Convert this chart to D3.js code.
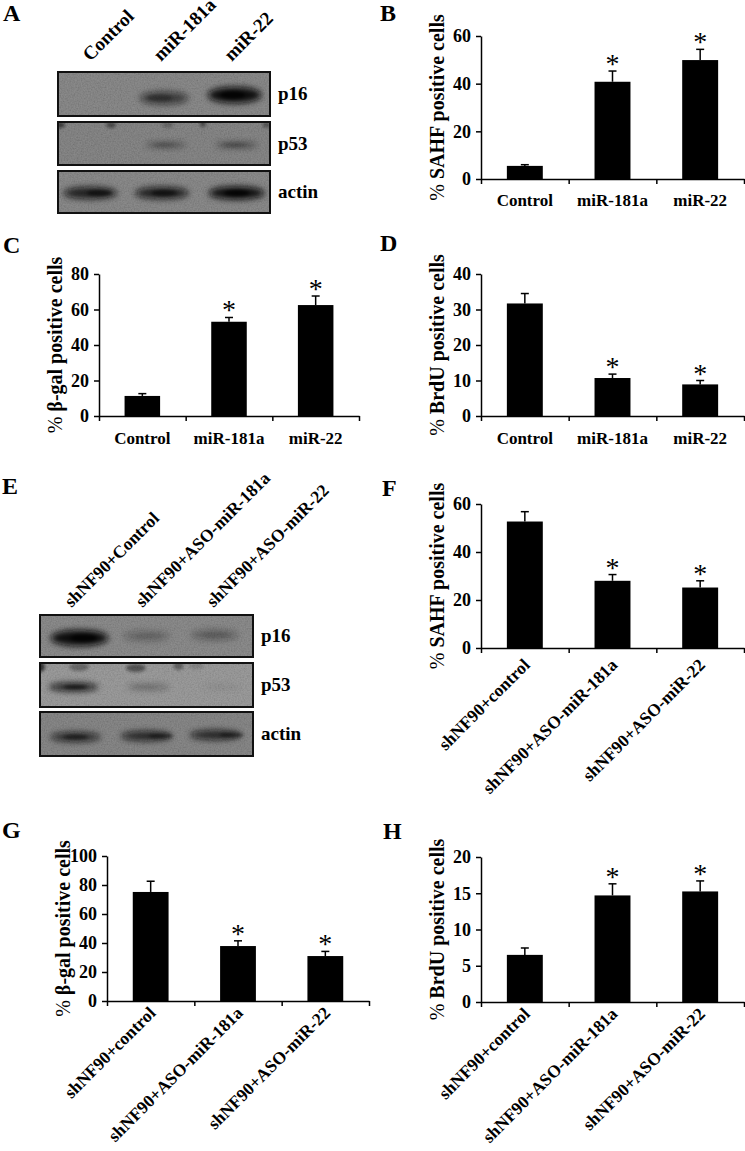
<!DOCTYPE html>
<html><head><meta charset="utf-8">
<script src="https://cdnjs.cloudflare.com/ajax/libs/d3/7.8.5/d3.min.js"></script>
<style>
body{margin:0;background:#fff}
svg{display:block}
text{font-family:"Liberation Serif","Times New Roman",serif;font-weight:bold;fill:#000}
</style>
</head><body>
<svg id="fig" width="745" height="1151"></svg>
<script>
// ---------- DATA ----------
const groupsTop = ["Control", "miR-181a", "miR-22"];
const groupsBottom = ["shNF90+control", "shNF90+ASO-miR-181a", "shNF90+ASO-miR-22"];
const blotLanesA = ["Control", "miR-181a", "miR-22"];
const blotLanesE = ["shNF90+Control", "shNF90+ASO-miR-181a", "shNF90+ASO-miR-22"];
const blotProteins = ["p16", "p53", "actin"];

// band intensities (0-1) per lane
const blotA_p16 = [0.0, 0.6, 1.0];
const blotA_p53 = [0.0, 0.45, 0.5];
const blotA_actin = [0.85, 0.85, 1.0];
const blotE_p16 = [1.0, 0.25, 0.3];
const blotE_p53 = [0.85, 0.3, 0.08];
const blotE_actin = [0.75, 0.8, 0.8];

// bar values (% positive cells) and error bars
const sahfB = [5.5, 40.8, 49.9];
const sahfBErr = [0.5, 4.5, 4.5];
const sigB = [false, true, true];
const bgalC = [11.3, 53.1, 62.5];
const bgalCErr = [1.3, 2.4, 5.1];
const sigC = [false, true, true];
const brduD = [31.7, 10.7, 8.9];
const brduDErr = [2.8, 1.1, 1.1];
const sigD = [false, true, true];
const sahfF = [52.7, 28.0, 25.2];
const sahfFErr = [4.1, 2.6, 2.8];
const sigF = [false, true, true];
const bgalG = [75.2, 37.9, 31.0];
const bgalGErr = [7.4, 3.6, 3.2];
const sigG = [false, true, true];
const brduH = [6.5, 14.7, 15.25];
const brduHErr = [0.95, 1.6, 1.45];
const sigH = [false, true, true];

const ticksB = [0, 20, 40, 60];
const ticksC = [0, 20, 40, 60, 80];
const ticksD = [0, 10, 20, 30, 40];
const ticksF = [0, 20, 40, 60];
const ticksG = [0, 20, 40, 60, 80, 100];
const ticksH = [0, 5, 10, 15, 20];

// ---------- DRAW ----------
const svg = d3.select("#fig");
const defs = svg.append("defs");
defs.append("filter").attr("id", "blur").attr("x", "-50%").attr("y", "-100%").attr("width", "200%").attr("height", "300%")
  .append("feGaussianBlur").attr("stdDeviation", 3);
defs.append("filter").attr("id", "blurS").attr("x", "-50%").attr("y", "-100%").attr("width", "200%").attr("height", "300%")
  .append("feGaussianBlur").attr("stdDeviation", 1.8);
const grain = defs.append("filter").attr("id", "grain").attr("x", 0).attr("y", 0).attr("width", "100%").attr("height", "100%");
grain.append("feTurbulence").attr("type", "fractalNoise").attr("baseFrequency", 0.7).attr("numOctaves", 2).attr("seed", 3);
grain.append("feColorMatrix").attr("type", "matrix")
  .attr("values", "1 0 0 0 0  1 0 0 0 0  1 0 0 0 0  0 0 0 0 0.18");

// panel letters
const letters = [["A", 3, 21], ["B", 380, 21], ["C", 3, 253], ["D", 380, 251], ["E", 2, 494], ["F", 382, 496], ["G", 2, 838], ["H", 383, 839]];
svg.selectAll("text.letter").data(letters).join("text").attr("class", "letter")
  .attr("x", d => d[1]).attr("y", d => d[2]).style("font-size", "24px").text(d => d[0]);

function drawBlot(cfg) {
  const g = svg.append("g");
  const xs = d3.scaleBand().domain(cfg.lanes).range([cfg.x0, cfg.x1]);
  cfg.strips.forEach((s, si) => {
    const sg = g.append("g");
    sg.append("rect").attr("x", cfg.x0).attr("y", s.y0).attr("width", cfg.x1 - cfg.x0).attr("height", s.y1 - s.y0)
      .attr("fill", s.bg);
    sg.append("rect").attr("x", cfg.x0).attr("y", s.y0).attr("width", cfg.x1 - cfg.x0).attr("height", s.y1 - s.y0)
      .attr("filter", "url(#grain)");
    const clipId = "clip" + cfg.id + si;
    defs.append("clipPath").attr("id", clipId).append("rect")
      .attr("x", cfg.x0).attr("y", s.y0).attr("width", cfg.x1 - cfg.x0).attr("height", s.y1 - s.y0);
    const bg = sg.append("g").attr("clip-path", `url(#${clipId})`);
    (s.spots || []).forEach(sp => {
      bg.append("ellipse").attr("cx", xs(cfg.lanes[sp[0]]) + xs.bandwidth() * sp[1]).attr("cy", s.y0 + sp[2])
        .attr("rx", sp[3]).attr("ry", sp[4]).attr("fill", "#111").attr("opacity", sp[5]).attr("filter", "url(#blurS)");
    });
    bg.selectAll("ellipse.band").data(s.vals).join("ellipse").attr("class", "band")
      .attr("cx", (d, i) => xs(cfg.lanes[i]) + xs.bandwidth() / 2 + (s.dx ? s.dx[i] : 0))
      .attr("cy", (d, i) => s.cy + (s.dy ? s.dy[i] : 0))
      .attr("rx", (d, i) => s.rx * (0.75 + 0.25 * d))
      .attr("ry", (d, i) => s.ry * (0.55 + 0.45 * d))
      .attr("fill", "#0a0a0a").attr("opacity", d => d)
      .attr("filter", "url(#blur)");
    bg.selectAll("ellipse.core").data(s.vals).join("ellipse").attr("class", "core")
      .attr("cx", (d, i) => xs(cfg.lanes[i]) + xs.bandwidth() / 2 + (s.cdx ? s.cdx[i] : 0))
      .attr("cy", (d, i) => s.cy + (s.dy ? s.dy[i] : 0))
      .attr("rx", s.rx * 0.45).attr("ry", s.ry * 0.45)
      .attr("fill", "#000").attr("opacity", d => d * d * 0.7)
      .attr("filter", "url(#blurS)");
    sg.append("rect").attr("x", cfg.x0).attr("y", s.y0).attr("width", cfg.x1 - cfg.x0).attr("height", s.y1 - s.y0)
      .attr("fill", "none").attr("stroke", "#111").attr("stroke-width", 2);
    sg.append("text").attr("x", cfg.x1 + 8).attr("y", (s.y0 + s.y1) / 2 + 6).style("font-size", "19px").text(cfg.proteins[si]);
  });
  g.selectAll("text.lane").data(cfg.lanes).join("text").attr("class", "lane")
    .attr("transform", d => `translate(${xs(d) + xs.bandwidth() / 2 + cfg.labDx},${cfg.labY}) rotate(-45)`)
    .style("font-size", cfg.labSize).text(d => d);
}

drawBlot({
  id: "A", x0: 58, x1: 270, lanes: blotLanesA, proteins: blotProteins, labY: 62, labDx: -3, labSize: "19px",
  strips: [
    { y0: 72, y1: 116, bg: "#777777", vals: blotA_p16, cy: 96, rx: 27, ry: 8, dy: [0, 2, -1], cdx: [0, -4, -2] },
    { y0: 122, y1: 165, bg: "#737373", vals: blotA_p53, cy: 145, rx: 24, ry: 3.5, dx: [0, 2, 2],
      spots: [[0, 0.03, 3, 5, 3, 0.6], [0, 0.75, 3, 5, 3, 0.5], [1, 0.55, 3, 6, 3, 0.25], [2, 0.05, 2, 3, 3, 0.5], [2, 0.95, 3, 4, 3, 0.4]] },
    { y0: 171, y1: 213, bg: "#777777", vals: blotA_actin, cy: 193, rx: 28, ry: 6.5, dx: [-3, -2, 2], cdx: [6, 0, 2] }
  ]
});

drawBlot({
  id: "E", x0: 40, x1: 253, lanes: blotLanesE, proteins: blotProteins, labY: 608, labDx: -4, labSize: "17.5px",
  strips: [
    { y0: 615, y1: 657, bg: "#797979", vals: blotE_p16, cy: 638, rx: 29, ry: 8, dx: [4, 0, -3], dy: [0, -2, -3], cdx: [8, 2, -2] },
    { y0: 663, y1: 707, bg: "#8c8c8c", vals: blotE_p53, cy: 687, rx: 26, ry: 4.5, dx: [-2, 2, 4],
      spots: [[0, 0.0, 4, 5, 5, 0.7], [0, 0.55, 4, 10, 4, 0.35], [1, 0.35, 5, 10, 4, 0.5], [1, 0.95, 3, 5, 4, 0.4], [2, 0.2, 3, 8, 3, 0.15]] },
    { y0: 712, y1: 756, bg: "#747474", vals: blotE_actin, cy: 737, rx: 27, ry: 5.5, dx: [0, 0, -2], dy: [0, -1, -2], cdx: [0, 14, 14] }
  ]
});

function drawBars(p) {
  const g = svg.append("g");
  const y = d3.scaleLinear().domain([0, p.max]).range([p.y0, p.yTop]);
  const xb = d3.scaleBand().domain(p.cats).range([p.x0, p.x1]);
  const xl = d3.scaleLinear().domain([0, p.cats.length]).range([p.x0, p.x1]);
  const bw = xb.bandwidth() * 0.41;
  const cx = c => xb(c) + xb.bandwidth() / 2;

  g.selectAll("rect.bar").data(p.vals).join("rect").attr("class", "bar")
    .attr("x", (d, i) => cx(p.cats[i]) - bw / 2).attr("width", bw)
    .attr("y", d => y(d)).attr("height", d => p.y0 - y(d)).attr("fill", "#000");
  const eg = g.append("g").attr("stroke", "#000").attr("stroke-width", 1.5);
  p.vals.forEach((v, i) => {
    const x = cx(p.cats[i]);
    eg.append("line").attr("x1", x).attr("x2", x).attr("y1", y(v)).attr("y2", y(v + p.err[i]));
    eg.append("line").attr("x1", x - 4).attr("x2", x + 4).attr("y1", y(v + p.err[i])).attr("y2", y(v + p.err[i]));
  });
  g.selectAll("text.sig").data(p.vals).join("text").attr("class", "sig")
    .attr("x", (d, i) => cx(p.cats[i])).attr("y", (d, i) => y(d + p.err[i]) + 2)
    .attr("text-anchor", "middle").style("font-size", "28px").style("font-weight", "normal")
    .text((d, i) => p.sig[i] ? "*" : "");

  const ya = g.append("g").attr("transform", `translate(${p.x0},0)`)
    .call(d3.axisLeft(y).tickValues(p.ticks).tickSize(5).tickSizeOuter(0).tickPadding(5).tickFormat(d3.format("d")));
  ya.selectAll("path,line").attr("stroke", "#000").attr("stroke-width", 1.5);
  ya.selectAll("text").attr("fill", "#000").style("font-size", "18px")
    .style("font-family", '"Liberation Serif","Times New Roman",serif').style("font-weight", "bold");
  const xa = g.append("g").attr("transform", `translate(0,${p.y0})`)
    .call(d3.axisBottom(xl).tickValues(d3.range(p.cats.length + 1)).tickSize(5).tickSizeOuter(0).tickFormat(""));
  xa.selectAll("path,line").attr("stroke", "#000").attr("stroke-width", 1.5);

  if (p.rot) {
    g.selectAll("text.cat").data(p.cats).join("text").attr("class", "cat")
      .attr("transform", d => `translate(${cx(d) + 6},${p.y0 + p.labDy}) rotate(-45)`)
      .attr("text-anchor", "end").style("font-size", "17.5px").text(d => d);
  } else {
    g.selectAll("text.cat").data(p.cats).join("text").attr("class", "cat")
      .attr("x", d => cx(d)).attr("y", p.y0 + p.labDy)
      .attr("text-anchor", "middle").style("font-size", "17px").text(d => d);
  }
  const yl = g.append("text").attr("transform", `translate(${p.x0 - 37},${(p.y0 + p.yTop) / 2}) rotate(-90)`)
    .attr("text-anchor", "middle").style("font-size", "20px");
  yl.append("tspan").style("font-weight", "normal").text("% ");
  yl.append("tspan").text(p.label);
}

drawBars({ x0: 481, x1: 744, y0: 179, yTop: 36, max: 60, ticks: ticksB, vals: sahfB, err: sahfBErr, sig: sigB, cats: groupsTop, label: "SAHF positive cells", rot: false, labDy: 27 });
drawBars({ x0: 99, x1: 359, y0: 416, yTop: 274, max: 80, ticks: ticksC, vals: bgalC, err: bgalCErr, sig: sigC, cats: groupsTop, label: "β-gal positive cells", rot: false, labDy: 28 });
drawBars({ x0: 481, x1: 744, y0: 416, yTop: 274, max: 40, ticks: ticksD, vals: brduD, err: brduDErr, sig: sigD, cats: groupsTop, label: "BrdU positive cells", rot: false, labDy: 28 });
drawBars({ x0: 481, x1: 744, y0: 648, yTop: 504, max: 60, ticks: ticksF, vals: sahfF, err: sahfFErr, sig: sigF, cats: groupsBottom, label: "SAHF positive cells", rot: true, labDy: 18 });
drawBars({ x0: 107, x1: 369, y0: 1001, yTop: 856, max: 100, ticks: ticksG, vals: bgalG, err: bgalGErr, sig: sigG, cats: groupsBottom, label: "β-gal positive cells", rot: true, labDy: 13 });
drawBars({ x0: 481, x1: 744, y0: 1002, yTop: 857, max: 20, ticks: ticksH, vals: brduH, err: brduHErr, sig: sigH, cats: groupsBottom, label: "BrdU positive cells", rot: true, labDy: 13 });
</script>
</body></html>
